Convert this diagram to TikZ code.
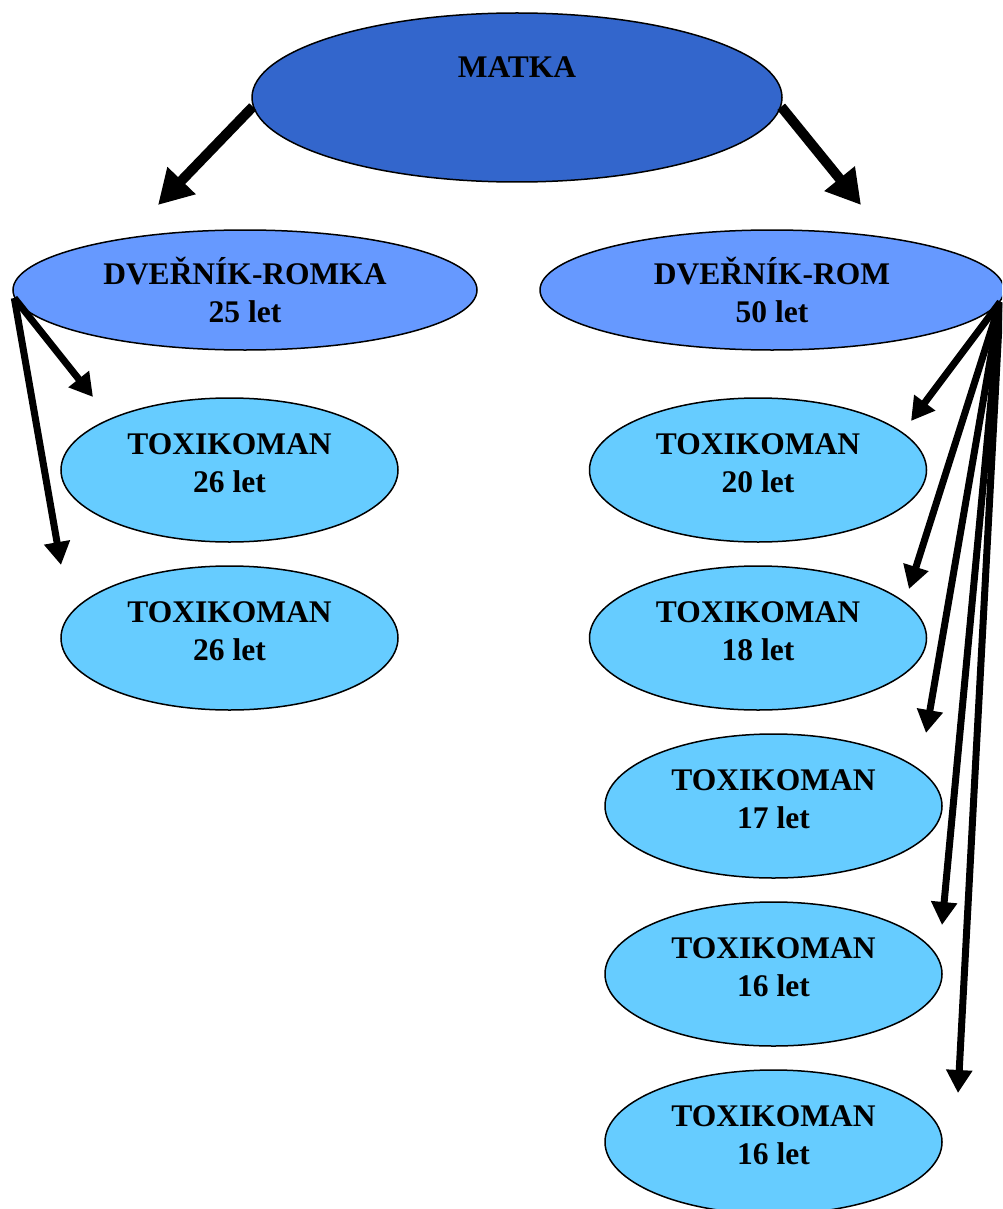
\documentclass[tikz,border=0pt]{standalone}
\usepackage{fontspec}
\setmainfont{Liberation Serif}
\usetikzlibrary{shapes.geometric}
\usetikzlibrary{arrows.meta}
\definecolor{matkablue}{RGB}{51,102,204}
\definecolor{rodicblue}{RGB}{102,153,255}
\definecolor{toxblue}{RGB}{102,204,255}
\tikzstyle{every oval} = [ellipse, draw=black, line width=1.5pt, inner sep=0pt, align=center, font=\bfseries\fontsize{31.5}{38}\selectfont]
\tikzstyle{matka} = [every oval, fill=matkablue, minimum width=530pt, minimum height=169pt, text height=23pt, text depth=63pt]
\tikzstyle{rodic} = [every oval, fill=rodicblue, minimum width=464pt, minimum height=120pt]
\tikzstyle{tox} = [every oval, fill=toxblue, minimum width=337pt, minimum height=144pt, text depth=13pt]
\tikzstyle{link} = [draw, line width=7pt, -{Triangle[length=23pt,width=25pt]}]
\tikzstyle{biglink} = [draw, line width=10pt, -{Triangle[length=34pt,width=37pt]}]

\begin{document}
\begin{tikzpicture}[x=1pt,y=-1pt]
    \useasboundingbox (0,0) rectangle (1002,1209);
    \clip (0,0) rectangle (1002,1209);
    \node[matka] (matka) at (517,97.5) {MATKA};
    \node[rodic] (romka) at (245,290) {DVEŘNÍK-ROMKA\\25 let};
    \node[rodic] (rom) at (772,290) {DVEŘNÍK-ROM\\50 let};
    \node[tox] (toxa) at (229.5,470) {TOXIKOMAN\\26 let};
    \node[tox] (toxb) at (229.5,638) {TOXIKOMAN\\26 let};
    \node[tox] (tox20) at (758,470) {TOXIKOMAN\\20 let};
    \node[tox] (tox18) at (758,638) {TOXIKOMAN\\18 let};
    \node[tox] (tox17) at (773.5,806) {TOXIKOMAN\\17 let};
    \node[tox] (tox16a) at (773.5,974) {TOXIKOMAN\\16 let};
    \node[tox] (tox16b) at (773.5,1142) {TOXIKOMAN\\16 let};
    % konce sipek
    \coordinate (tipromka) at (158,205);
    \coordinate (tiprom) at (861,205);
    \coordinate (tipa) at (93,397);
    \coordinate (tipb) at (61,565);
    \coordinate (tip20) at (911,421);
    \coordinate (tip18) at (909,589);
    \coordinate (tip17) at (926,733);
    \coordinate (tip16a) at (942,925);
    \coordinate (tip16b) at (958,1093);
    \path[biglink] (matka.182) -- (tipromka);
    \path[biglink] (matka.358) -- (tiprom);
    \path[link] (romka.182) -- (tipa);
    \path[link] (romka.182) -- (tipb);
    \foreach \t in {20,18,17,16a,16b}
        \path[link] (rom.357) -- (tip\t);
\end{tikzpicture}
\end{document}
